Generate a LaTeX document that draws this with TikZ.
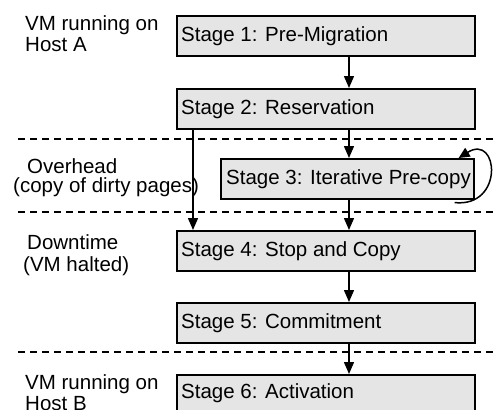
\documentclass[tikz,border=0pt]{standalone}
\usepackage{fontspec}
\setmainfont{Liberation Sans}
\usetikzlibrary{arrows.meta}
\begin{document}
\begin{tikzpicture}[x=1pt,y=-1pt,
  stagebox/.style={draw=black,line width=1.6pt,fill=black!10,minimum width=298pt,minimum height=40pt,
    anchor=north west,inner sep=0pt},
  stagetext/.style={anchor=base west,font=\fontsize{20.5}{22}\selectfont,inner sep=0pt},
  sidetext/.style={anchor=north west,align=left,font=\fontsize{20.5}{21}\selectfont,inner sep=0pt},
  flow/.style={line width=1.5pt,-{Triangle[length=12pt,width=10pt]}},
  phase/.style={line width=1.4pt,dash pattern=on 7pt off 5pt}]
\useasboundingbox (0,0) rectangle (496,410);
\begin{scope}
\clip (0,0) rectangle (496,410);
% stage boxes
\node[stagebox] (b1) at (176,15) {};
\node[stagebox] (b2) at (176,88) {};
\node[stagebox,minimum width=253pt] (b3) at (220,158) {};
\node[stagebox] (b4) at (176,230) {};
\node[stagebox] (b5) at (176,302) {};
\node[stagebox,minimum height=60pt] (b6) at (176,374) {};
\end{scope}
\node[stagetext] (t1) at ([xshift=5pt,yshift=-6pt]b1.west) {Stage 1: Pre-Migration};
\node[stagetext] (t2) at ([xshift=5pt,yshift=-6pt]b2.west) {Stage 2: Reservation};
\node[stagetext] (t3) at ([xshift=6pt,yshift=-6pt]b3.west) {Stage 3: Iterative Pre-copy};
\node[stagetext] (t4) at ([xshift=5pt,yshift=-6pt]b4.west) {Stage 4: Stop and Copy};
\node[stagetext] (t5) at ([xshift=5pt,yshift=-6pt]b5.west) {Stage 5: Commitment};
\node[stagetext] (t6) at ([xshift=5pt,yshift=-24pt]b6.north west) {Stage 6: Activation};
% phase separators
\coordinate (s1a) at (18,139); \coordinate (s1b) at (496,139);
\coordinate (s2a) at (18,212); \coordinate (s2b) at (496,212);
\coordinate (s3a) at (18,352); \coordinate (s3b) at (496,352);
\draw[phase] (s1a) -- (s1b);
\draw[phase] (s2a) -- (s2b);
\draw[phase] (s3a) -- (s3b);
% phase labels
\node[sidetext] (l1) at (25,15) {VM running on\\Host A};
\node[sidetext] (l2) at (13,158) {\hspace*{14pt}Overhead\\[-2pt](copy of dirty pages)};
\node[sidetext] (l3) at (23,234) {\hspace*{4pt}Downtime\\[1pt](VM halted)};
\node[sidetext] (l4) at (25,374) {VM running on\\Host B};
% flow arrows
\draw[flow] (b1.south -| 349,0) -- (b2.north -| 349,0);
\draw[flow] (b2.south -| 349,0) -- (b3.north -| 349,0);
\draw[flow] (b2.south -| 193,0) -- (b4.north -| 193,0);
\draw[flow] (b3.south -| 349,0) -- (b4.north -| 349,0);
\draw[flow] (b4.south -| 349,0) -- (b5.north -| 349,0);
\draw[flow] (b5.south -| 349,0) -- (b6.north -| 349,0);
% repeated pre-copy rounds
\draw[line width=1.5pt,-{Triangle[length=11pt,width=10pt]}]
  ([xshift=-20pt,yshift=-3pt]b3.south east) .. controls +(50,5) and +(40,-25) .. ([xshift=-16pt]b3.north east);
\end{tikzpicture}
\end{document}
